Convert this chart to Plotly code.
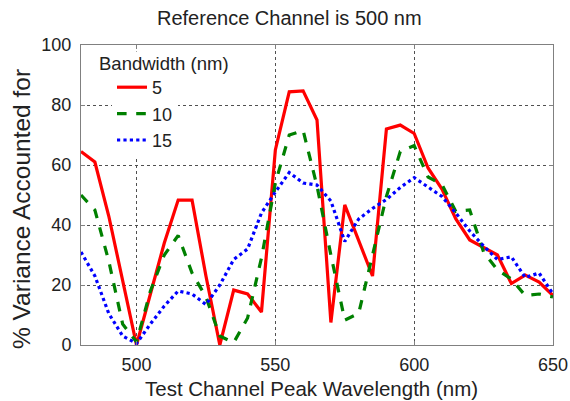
import plotly.graph_objects as go

wavelength = [480, 485, 490, 495, 500, 505, 510, 515, 520, 525, 530, 535, 540, 545,
              550, 555, 560, 565, 570, 575, 580, 585, 590, 595, 600, 605, 610, 615,
              620, 625, 630, 635, 640, 645, 650]

bw5 = [64.5, 61, 43, 22, 0, 17, 34, 48.3, 48.3, 23, 0, 18.3, 17, 11,
       65, 84.4, 84.7, 75, 7.5, 46.7, 35, 23, 72, 73.3, 70.5, 59, 52, 42,
       35, 32.5, 30, 20.5, 23.3, 21, 16.5]

bw10 = [50, 45, 28, 7, 1, 18, 30, 36.5, 24, 16, 3, 0.8, 9, 29,
        54, 70, 71.5, 53, 30, 8.3, 10.5, 30, 49.5, 64.5, 66.5, 56, 53.5, 44.5,
        45, 31, 25, 22, 16.5, 17, 16]

bw15 = [31, 23, 10.5, 3, 0.5, 7, 13, 18, 17, 13.5, 20, 28.5, 32, 44,
        51, 57.5, 54, 53.3, 48, 34.5, 42, 45.5, 48.5, 52.5, 55.8, 52.5, 49.5, 44,
        38, 33, 28.5, 29.4, 22.5, 24, 17]

series_names = ["5", "10", "15"]
x_ticks = [500, 550, 600, 650]
y_ticks = [0, 20, 40, 60, 80, 100]

FONT = "Arial, Liberation Sans, sans-serif"
TXT = "#222222"
L, R, T, B = 81, 17, 45, 56
PW, PH = 570 - L - R, 401 - T - B

fig = go.Figure()
styles = [("#ff0000", "solid"), ("#008000", "dash"), ("#0000ff", "dot")]
for name, vals, (col, dash) in zip(series_names, [bw5, bw10, bw15], styles):
    fig.add_trace(go.Scatter(x=wavelength, y=vals, mode="lines", name=name,
                             legendgroup=name,
                             line=dict(color=col, width=3.2, dash=dash)))

axis_common = dict(showline=True, linecolor="#808080", linewidth=1, mirror="ticks",
                   ticks="inside", ticklen=4, tickcolor="#808080",
                   showgrid=True, gridcolor="#505050", griddash="dot", gridwidth=1,
                   zeroline=False, automargin=False,
                   tickfont=dict(family=FONT, size=18, color=TXT))

fig.update_layout(
    width=570, height=401,
    margin=dict(l=L, r=R, t=T, b=B),
    paper_bgcolor="white", plot_bgcolor="white",
    xaxis=dict(range=[480, 650], tickvals=x_ticks, ticklabelstandoff=3, **axis_common),
    yaxis=dict(range=[0, 100], tickvals=y_ticks, ticklabelstandoff=5, **axis_common),
    legend=dict(x=(112 - L) / PW, y=(345 - 69) / PH, xanchor="left", yanchor="top",
                bgcolor="rgba(255,255,255,1)", borderwidth=0,
                traceorder="grouped", tracegroupgap=0,
                font=dict(family=FONT, size=18, color=TXT)),
    showlegend=True,
    annotations=[
        dict(text="Bandwidth (nm)", xref="paper", yref="paper",
             x=(97 - L) / PW, y=(345 - 63) / PH, xanchor="left", yanchor="middle",
             showarrow=False, bgcolor="white", font=dict(family=FONT, size=18.5, color=TXT)),
        dict(text="Reference Channel is 500 nm", xref="paper", yref="paper",
             x=(289 - L) / PW, y=(345 - 18) / PH, xanchor="center", yanchor="middle",
             showarrow=False, font=dict(family=FONT, size=20, color=TXT)),
        dict(text="Test Channel Peak Wavelength (nm)", xref="paper", yref="paper",
             x=(311 - L) / PW, y=(345 - 388) / PH, xanchor="center", yanchor="middle",
             showarrow=False, font=dict(family=FONT, size=20.5, color=TXT)),
        dict(text="% Variance Accounted for", xref="paper", yref="paper", textangle=-90,
             x=(21 - L) / PW, y=(345 - 209) / PH, xanchor="center", yanchor="middle",
             showarrow=False, font=dict(family=FONT, size=24.5, color=TXT)),
    ],
)

fig.write_html("out.html")
